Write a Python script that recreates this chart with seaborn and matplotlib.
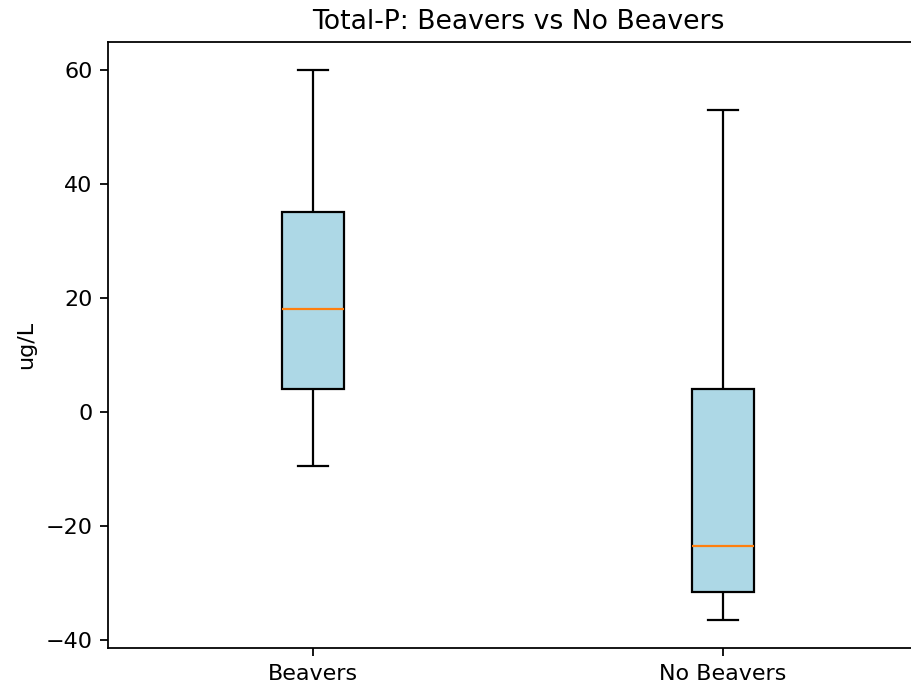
import numpy as np
import pandas as pd
import matplotlib
matplotlib.use("Agg")
import matplotlib.pyplot as plt
import seaborn as sns

# Five-number summaries of Total-P change (ug/L) for each site group
groups = ["Beavers", "No Beavers"]
beavers_vals = [-9.5, 4.0, 18.0, 35.0, 60.0]
no_beavers_vals = [-36.5, -31.5, -23.5, 4.0, 53.0]

df = pd.DataFrame({
    "group": [groups[0]] * len(beavers_vals) + [groups[1]] * len(no_beavers_vals),
    "value": beavers_vals + no_beavers_vals,
})

DPI = 160
fig = plt.figure(figsize=(911 / DPI, 686 / DPI), dpi=DPI)
# axes run past the right edge of the canvas
ax = fig.add_axes([108 / 911, 1 - 648 / 686, 820 / 911, 606 / 686])

sns.boxplot(
    data=df, x="group", y="value", order=groups, ax=ax,
    width=0.15, whis=np.inf, fliersize=0,
    color="lightblue", linecolor="black", linewidth=1.0,
    boxprops=dict(facecolor="lightblue", edgecolor="black"),
    medianprops=dict(color="#ff7f0e", linewidth=1.0),
    whiskerprops=dict(color="black"),
    capprops=dict(color="black"),
)

ax.set_xlim(-0.5, 1.5)
ax.set_xlabel("")
ax.set_ylabel("ug/L")
ax.set_title("Total-P: Beavers vs No Beavers")
ax.set_yticks([-40, -20, 0, 20, 40, 60])
for name, s in ax.spines.items():
    s.set_color("black")
    s.set_visible(name != "right")

fig.savefig("out.png", dpi=DPI)
